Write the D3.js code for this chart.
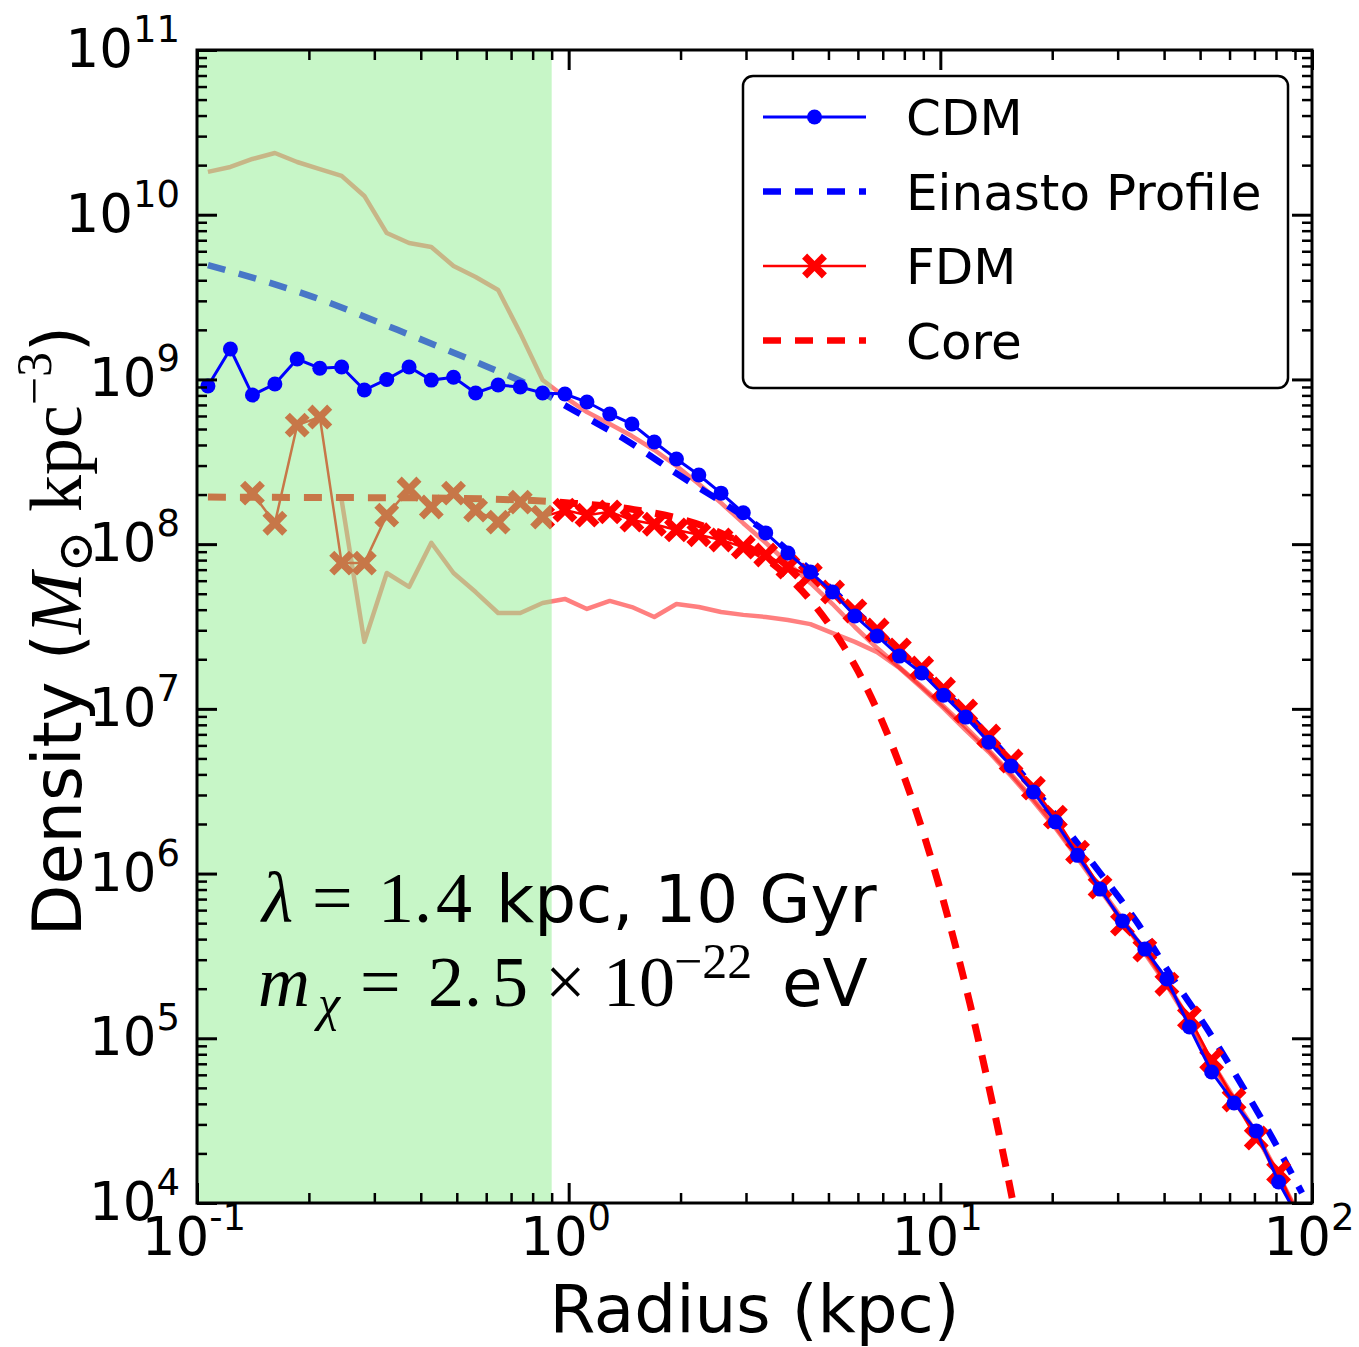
<!DOCTYPE html>
<html>
<head>
<meta charset="utf-8">
<script src="https://cdn.jsdelivr.net/npm/d3@7"></script>
<style>
  body { margin: 0; background: #fff; }
</style>
</head>
<body>
<div id="chart"></div>
<script>
// bin radii (kpc)
var radii = [0.107, 0.123, 0.141, 0.162, 0.186, 0.214, 0.245, 0.282, 0.324, 0.372,
             0.427, 0.490, 0.562, 0.646, 0.741, 0.851, 0.977, 1.12, 1.29, 1.48,
             1.70, 1.95, 2.24, 2.57, 2.95, 3.39, 3.89, 4.47, 5.13, 5.89,
             6.76, 7.76, 8.91, 10.2, 11.7, 13.5, 15.5, 17.8, 20.4, 23.4,
             26.9, 30.9, 35.5, 40.7, 46.8, 53.7, 61.7, 70.8, 81.3, 93.3];

// CDM density (Msun kpc^-3)
var cdmRho = [9.12e8, 1.53e9, 8.04e8, 9.38e8, 1.33e9, 1.17e9, 1.19e9, 8.62e8, 1.00e9, 1.19e9,
              9.91e8, 1.03e9, 8.27e8, 9.25e8, 8.99e8, 8.27e8, 8.15e8, 7.29e8, 6.17e8, 5.36e8,
              4.17e8, 3.29e8, 2.63e8, 2.04e8, 1.55e8, 1.17e8, 8.83e7, 6.77e7, 5.12e7, 3.66e7,
              2.77e7, 2.09e7, 1.65e7, 1.21e7, 8.91e6, 6.28e6, 4.50e6, 3.13e6, 2.06e6, 1.29e6,
              8.05e5, 5.15e5, 3.48e5, 2.29e5, 1.17e5, 6.24e4, 4.05e4, 2.74e4, 1.34e4, 7.6e3];

// FDM density
var fdmRho = [null, null, 2.04e8, 1.34e8, 5.28e8, 5.91e8, 7.67e7, 7.67e7, 1.50e8, 2.16e8,
              1.68e8, 2.04e8, 1.61e8, 1.36e8, 1.80e8, 1.46e8, 1.61e8, 1.50e8, 1.57e8, 1.40e8,
              1.32e8, 1.22e8, 1.14e8, 1.06e8, 9.60e7, 8.59e7, 7.26e7, 6.49e7, 5.12e7, 3.93e7,
              3.01e7, 2.28e7, 1.77e7, 1.32e7, 9.70e6, 6.84e6, 4.82e6, 3.30e6, 2.20e6, 1.35e6,
              8.28e5, 4.93e5, 3.43e5, 2.13e5, 1.33e5, 7.38e4, 4.22e4, 2.48e4, 1.54e4, 7.4e3];

// faint (unlabelled) profiles
var faintA = [1.82e10, 1.95e10, 2.18e10, 2.37e10, 2.09e10, 1.89e10, 1.72e10, 1.30e10, 7.74e9, 6.73e9,
              6.37e9, 4.88e9, 4.19e9, 3.49e9, 1.91e9, 9.91e8, 7.82e8, 6.34e8, 5.36e8, 4.53e8,
              3.73e8, 2.98e8, 2.32e8, 1.78e8, 1.34e8, 1.02e8, 7.67e7, 5.81e7, 4.33e7, 3.14e7,
              2.34e7, 1.79e7, 1.37e7, 1.04e7, 7.74e6, 5.62e6, 4.02e6, 2.83e6, 1.94e6, 1.28e6,
              8.17e5, 5.29e5, 3.38e5, 2.16e5, 1.29e5, 7.18e4, 4.34e4, 2.66e4, 1.48e4, 8.0e3];

var faintB = [null, null, null, null, null, null, 1.85e8, 2.55e7, 6.68e7, 5.50e7,
              1.02e8, 6.68e7, 5.12e7, 3.82e7, 3.82e7, 4.39e7, 4.65e7, 4.04e7, 4.52e7, 4.15e7,
              3.61e7, 4.33e7, 4.15e7, 3.87e7, 3.72e7, 3.61e7, 3.46e7, 3.27e7, 2.88e7, 2.55e7,
              2.21e7, 1.77e7, 1.34e7, 1.01e7, 7.43e6, 5.47e6, 3.91e6, 2.75e6, 1.89e6, 1.24e6,
              7.94e5, 5.15e5, 3.29e5, 2.10e5, 1.25e5, 6.97e4, 4.22e4, 2.58e4, 1.44e4, 7.9e3];

// Einasto fit
var einastoR   = [0.107, 0.206, 0.346, 0.617, 0.743, 1.03, 1.44, 2.0, 2.79, 3.29, 4.22, 5.75,
                  7.85, 10.7, 14.6, 19.9, 26.8, 33.8, 42.0, 52.1, 64.0, 78.0, 94.0];
var einastoRho = [4.95e9, 3.16e9, 2.0e9, 1.17e9, 9.78e8, 6.5e8, 4.23e8, 2.59e8, 1.61e8, 1.25e8, 7.79e7, 4.15e7,
                  2.18e7, 1.16e7, 5.62e6, 2.43e6, 1.02e6, 5.07e5, 2.35e5, 1.15e5, 5.42e4, 2.51e4, 1.15e4];

// soliton core
var coreR   = [0.107, 0.2, 0.4, 0.6, 0.8, 1.0, 1.5, 2, 2.5, 3, 3.5, 4, 4.5, 5, 5.5, 6,
               7, 8, 9, 10, 11, 12, 13, 14, 15, 16];
var coreRho = [1.93e8, 1.92e8, 1.91e8, 1.88e8, 1.84e8, 1.78e8, 1.62e8, 1.42e8, 1.20e8, 9.77e7, 7.75e7, 5.97e7,
               4.49e7, 3.30e7, 2.39e7, 1.70e7, 8.22e6, 3.84e6, 1.76e6, 7.95e5, 3.59e5, 1.64e5, 7.51e4,
               3.51e4, 1.67e4, 8.07e3];

var shadeMax = 0.9;   // resolution limit (kpc)

var xTickExp = [-1, 0, 1, 2];
var yTickExp = [4, 5, 6, 7, 8, 9, 10, 11];

var legendItems = [
  { label: 'CDM',             color: 'blue', dash: false, marker: 'o' },
  { label: 'Einasto Profile', color: 'blue', dash: true,  marker: null },
  { label: 'FDM',             color: 'red',  dash: false, marker: 'x' },
  { label: 'Core',            color: 'red',  dash: true,  marker: null }
];

var W = 1359, H = 1347
  , L = 197, R = 1312, T = 50, B = 1203
  , sans = "'DejaVu Sans', sans-serif"
  , serif = "'Liberation Serif', 'DejaVu Serif', serif"
  , dashes = '18,14'
  ;

var x = d3.scaleLog().domain([0.1, 100]).range([L, R]);
var y = d3.scaleLog().domain([1e4, 1e11]).range([B, T]);

var svg = d3.select('#chart').append('svg')
    .attr('width', W)
    .attr('height', H)
    .style('font-family', sans);

svg.append('defs').append('clipPath')
    .attr('id', 'plotclip')
  .append('rect')
    .attr('x', L).attr('y', T)
    .attr('width', R - L).attr('height', B - T);

var plot = svg.append('g').attr('clip-path', 'url(#plotclip)');

function zipped(rs, vals) {
  return rs.map(function (r, i) { return [r, vals[i]]; });
}

var line = d3.line()
    .defined(d => d[1] != null)
    .x(d => x(d[0]))
    .y(d => y(d[1]));

var smooth = d3.line()
    .curve(d3.curveMonotoneX)
    .x(d => x(d[0]))
    .y(d => y(d[1]));

// filled 'X' marker like matplotlib's
var symbolFatX = {
  draw: function (ctx, size) {
    var t = 3.6, l = Math.sqrt(size) / 2;
    var pts = [[-t, -l], [t, -l], [t, -t], [l, -t], [l, t], [t, t],
               [t, l], [-t, l], [-t, t], [-l, t], [-l, -t], [-t, -t]];
    pts.forEach(function (p, i) {
      var px = (p[0] - p[1]) / Math.SQRT2, py = (p[0] + p[1]) / Math.SQRT2;
      if (i === 0) ctx.moveTo(px, py); else ctx.lineTo(px, py);
    });
    ctx.closePath();
  }
};
var xMark = d3.symbol().type(symbolFatX).size(784);

// faint profiles
[faintA, faintB].forEach(function (vals) {
  plot.append('path')
      .datum(zipped(radii, vals))
      .attr('d', line)
      .attr('fill', 'none')
      .attr('stroke', 'red')
      .attr('stroke-opacity', 0.5)
      .attr('stroke-width', 4.5)
      .attr('stroke-linejoin', 'round');
});

// Einasto fit
plot.append('path')
    .datum(zipped(einastoR, einastoRho))
    .attr('d', smooth)
    .attr('fill', 'none')
    .attr('stroke', 'blue')
    .attr('stroke-width', 6.5)
    .attr('stroke-dasharray', dashes);

// core
plot.append('path')
    .datum(zipped(coreR, coreRho))
    .attr('d', smooth)
    .attr('fill', 'none')
    .attr('stroke', 'red')
    .attr('stroke-width', 7)
    .attr('stroke-dasharray', dashes);

// FDM
var fdmData = zipped(radii, fdmRho).filter(d => d[1] != null);
plot.append('path')
    .datum(fdmData)
    .attr('d', line)
    .attr('fill', 'none')
    .attr('stroke', 'red')
    .attr('stroke-width', 2.5);

plot.selectAll('.fdm').data(fdmData)
  .enter().append('path')
    .attr('class', 'fdm')
    .attr('d', xMark)
    .attr('fill', 'red')
    .attr('transform', d => 'translate(' + x(d[0]) + ',' + y(d[1]) + ')');

// shaded unresolved region
plot.append('rect')
    .attr('x', x(0.1))
    .attr('y', T)
    .attr('width', x(shadeMax) - x(0.1))
    .attr('height', B - T)
    .attr('fill', '#90ee90')
    .attr('fill-opacity', 0.5);

// CDM
var cdmData = zipped(radii, cdmRho);
plot.append('path')
    .datum(cdmData)
    .attr('d', line)
    .attr('fill', 'none')
    .attr('stroke', 'blue')
    .attr('stroke-width', 3);

plot.selectAll('.cdm').data(cdmData)
  .enter().append('circle')
    .attr('class', 'cdm')
    .attr('cx', d => x(d[0]))
    .attr('cy', d => y(d[1]))
    .attr('r', 7.5)
    .attr('fill', 'blue');

// axes: inward ticks on all four sides
function isMajor(v) {
  var e = Math.log10(v);
  return Math.abs(e - Math.round(e)) < 1e-6;
}
var xt = x.ticks(), yt = y.ticks();
var xMajor = xt.filter(isMajor), xMinor = xt.filter(v => !isMajor(v));
var yMajor = yt.filter(isMajor), yMinor = yt.filter(v => !isMajor(v));

function drawAxis(gen, scale, vals, len, width, tr) {
  var g = svg.append('g')
      .attr('transform', tr)
      .call(gen(scale).tickValues(vals).tickSize(-len).tickFormat(''));
  g.select('.domain').remove();
  g.selectAll('line').attr('stroke', '#000').attr('stroke-width', width);
}
[[xMajor, 20, 3], [xMinor, 10, 2.5]].forEach(function (t) {
  drawAxis(d3.axisBottom, x, t[0], t[1], t[2], 'translate(0,' + B + ')');
  drawAxis(d3.axisTop, x, t[0], t[1], t[2], 'translate(0,' + T + ')');
});
[[yMajor, 20, 3], [yMinor, 10, 2.5]].forEach(function (t) {
  drawAxis(d3.axisLeft, y, t[0], t[1], t[2], 'translate(' + L + ',0)');
  drawAxis(d3.axisRight, y, t[0], t[1], t[2], 'translate(' + R + ',0)');
});

svg.append('rect')
    .attr('x', L).attr('y', T)
    .attr('width', R - L).attr('height', B - T)
    .attr('fill', 'none')
    .attr('stroke', '#000')
    .attr('stroke-width', 3);

// tick labels 10^n
function powLabel(sel, e) {
  sel.append('tspan').text('10');
  sel.append('tspan')
      .attr('dy', -25)
      .style('font-size', '37px')
      .text(e < 0 ? '-' + (-e) : String(e));
}

xTickExp.forEach(function (e) {
  svg.append('text')
      .attr('x', x(Math.pow(10, e)) - 3)
      .attr('y', 1255)
      .attr('text-anchor', 'middle')
      .style('font-size', '53px')
      .call(powLabel, e);
});

yTickExp.forEach(function (e) {
  svg.append('text')
      .attr('x', 180)
      .attr('y', y(Math.pow(10, e)) + 17)
      .attr('text-anchor', 'end')
      .style('font-size', '53px')
      .call(powLabel, e);
});

// axis titles
svg.append('text')
    .attr('x', (L + R) / 2)
    .attr('y', 1332)
    .attr('text-anchor', 'middle')
    .style('font-size', '66px')
    .text('Radius (kpc)');

var ylab = svg.append('text')
    .attr('transform', 'translate(81,631) rotate(-90)')
    .attr('text-anchor', 'middle')
    .style('font-size', '67px');
ylab.append('tspan').text('Density (');
ylab.append('tspan').style('font-family', serif).style('font-style', 'italic').style('font-size', '74px').text('M');
ylab.append('tspan').style('font-family', serif).style('font-size', '50px').attr('dy', 11).text('\u2299');
ylab.append('tspan').style('font-family', serif).style('font-size', '74px').attr('dy', -11).text(' kpc');
ylab.append('tspan').style('font-family', serif).style('font-size', '50px').attr('dy', -30).text('\u22123');
ylab.append('tspan').attr('dy', 30).text(')');

// annotation
var ann = svg.append('g');
function piece(px, py, txt, opts) {
  var t = ann.append('text')
      .attr('x', px).attr('y', py)
      .style('font-family', opts.font)
      .style('font-size', opts.size + 'px')
      .text(txt);
  if (opts.italic) t.style('font-style', 'italic');
  return t;
}
var m = { font: serif, size: 72 }, mi = { font: serif, size: 72, italic: true }
  , s = { font: sans, size: 66 };
piece(262, 922, '\u03bb', mi);
piece(312, 922, '=', m);
piece(378, 922, '1.', m);
piece(436, 922, '4', m);
piece(496, 922, 'kpc, 10 Gyr', s);

piece(258, 1006, 'm', mi);
piece(318, 1020, '\u03c7', { font: serif, size: 50, italic: true });
piece(360, 1006, '=', m);
piece(428, 1006, '2.', m);
piece(492, 1006, '5', m);
piece(545, 1006, '\u00d7', m);
piece(603, 1006, '10', m);
piece(674, 978, '\u221222', { font: serif, size: 50 });
piece(782, 1006, 'eV', s);

// legend
var leg = svg.append('g');
leg.append('rect')
    .attr('x', 743).attr('y', 76)
    .attr('width', 545).attr('height', 312)
    .attr('rx', 10)
    .attr('fill', '#fff')
    .attr('stroke', '#000')
    .attr('stroke-width', 2.5);

legendItems.forEach(function (d, i) {
  var ly = 117 + i * 74.5;
  leg.append('line')
      .attr('x1', 763).attr('x2', 866)
      .attr('y1', ly).attr('y2', ly)
      .attr('stroke', d.color)
      .attr('stroke-width', d.dash ? 6.5 : (d.marker === 'o' ? 3 : 2.5))
      .attr('stroke-dasharray', d.dash ? dashes : null);
  if (d.marker === 'o') {
    leg.append('circle').attr('cx', 814.5).attr('cy', ly).attr('r', 7.5).attr('fill', d.color);
  } else if (d.marker === 'x') {
    leg.append('path').attr('d', xMark).attr('fill', d.color)
        .attr('transform', 'translate(814.5,' + ly + ')');
  }
  leg.append('text')
      .attr('x', 906)
      .attr('y', ly + 18)
      .style('font-size', '50px')
      .text(d.label);
});
</script>
</body>
</html>
